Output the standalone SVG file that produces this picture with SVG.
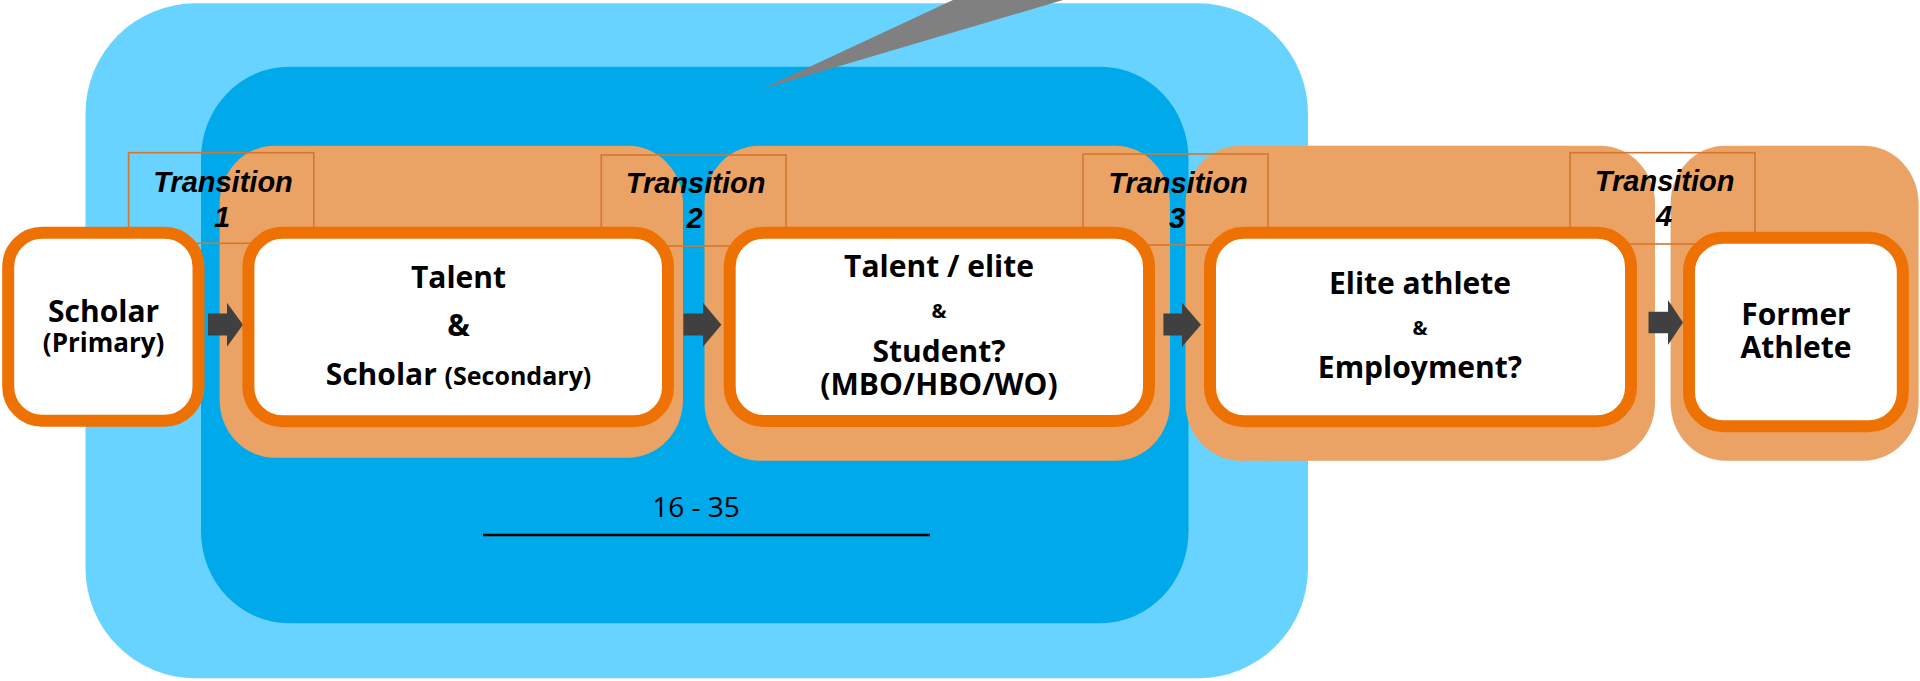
<svg xmlns="http://www.w3.org/2000/svg" width="1920" height="681" viewBox="0 0 1920 681">
<defs>
<style>
.lb{fill:#69D3FF}
.db{fill:#00A9EA}
.band{fill:#EBA265}
.box{fill:#FFFFFF;stroke:#EE7203;stroke-width:12}
.tr{fill:none;stroke:#D4772E;stroke-width:1.6}
.arr{fill:#404040}
.t{font-family:"Open Sans","Liberation Sans",sans-serif;font-weight:bold;fill:#000;text-anchor:middle}
.ti{font-family:"Liberation Sans",Arial,sans-serif;font-weight:bold;font-style:italic;fill:#000;text-anchor:middle;font-size:29px}
.reg{font-family:"Open Sans","Liberation Sans",sans-serif;fill:#000;text-anchor:middle;font-size:28px}
</style>
</defs>
<g id="background">
<rect class="lb" x="85.5" y="3.3" width="1222.5" height="675" rx="110" ry="110"/>
<rect class="db" x="201" y="66.7" width="987.5" height="556.6" rx="88" ry="92"/>
<polygon points="953,0 1063,0 762,89" fill="#808080"/>
</g>
<g id="bands">
<rect id="band1" class="band" x="219.6" y="145.7" width="463.4" height="312" rx="55" ry="58"/>
<rect id="band2" class="band" x="704.5" y="145.7" width="465.5" height="315" rx="55" ry="58"/>
<rect id="band3" class="band" x="1185.5" y="145.7" width="469.5" height="315" rx="55" ry="58"/>
<rect id="band4" class="band" x="1670.6" y="145.7" width="248" height="315" rx="55" ry="58"/>
</g>
<g id="age-label">
<text class="reg" x="696" y="517">16 - 35</text>
<line x1="483" y1="535" x2="930" y2="535" stroke="#000" stroke-width="2.5"/>
</g>
<g id="transitions">
<g id="transition1">
<rect class="tr" x="128.6" y="152.7" width="185.2" height="90.6"/>
<text class="ti" x="223" y="192">Transition</text>
<text class="ti" x="222" y="227">1</text>
</g>
<g id="transition2">
<rect class="tr" x="601.3" y="155" width="184.7" height="91"/>
<text class="ti" x="695.6" y="193">Transition</text>
<text class="ti" x="694.6" y="228">2</text>
</g>
<g id="transition3">
<rect class="tr" x="1083" y="154" width="185" height="91"/>
<text class="ti" x="1178" y="192.7">Transition</text>
<text class="ti" x="1177" y="228">3</text>
</g>
<g id="transition4">
<rect class="tr" x="1570" y="152.7" width="185" height="91.3"/>
<text class="ti" x="1664.7" y="190.7">Transition</text>
<text class="ti" x="1664" y="226">4</text>
</g>
</g>
<g id="connectors">
<polygon class="arr" points="208,313.5 227,313.5 227,302.7 243,324.7 227,346.7 227,335.5 208,335.5"/>
<polygon class="arr" points="683.5,313.5 703,313.5 703,302.7 721.4,324.7 703,346.7 703,335.5 683.5,335.5"/>
<polygon class="arr" points="1163.4,313.5 1182,313.5 1182,302.7 1201,324.7 1182,346.7 1182,335.5 1163.4,335.5"/>
<polygon class="arr" points="1648.5,311.7 1668,311.7 1668,300 1683,322.5 1668,345 1668,333.3 1648.5,333.3"/>
</g>
<g id="node-scholar-primary">
<rect class="box" x="8.2" y="232.7" width="190.3" height="188" rx="34" ry="34"/>
<text class="t" x="103.6" y="321.7" font-size="30">Scholar</text>
<text class="t" x="103.6" y="352.3" font-size="26">(Primary)</text>
</g>
<g id="node-talent">
<rect class="box" x="248.4" y="232.7" width="419.6" height="188.6" rx="34" ry="34"/>
<text class="t" x="458.5" y="288" font-size="30">Talent</text>
<text class="t" x="458.5" y="336" font-size="30">&amp;</text>
<text class="t" x="458.5" y="385" font-size="30">Scholar <tspan font-size="25">(Secondary)</tspan></text>
</g>
<g id="node-talent-elite">
<rect class="box" x="729.7" y="232.7" width="419.3" height="188.3" rx="34" ry="34"/>
<text class="t" x="939" y="277" font-size="30">Talent / elite</text>
<text class="t" x="939" y="318" font-size="20">&amp;</text>
<text class="t" x="939" y="362" font-size="30">Student?</text>
<text class="t" x="939" y="395" font-size="30">(MBO/HBO/WO)</text>
</g>
<g id="node-elite">
<rect class="box" x="1210" y="232.7" width="421" height="188.6" rx="34" ry="34"/>
<text class="t" x="1420" y="294" font-size="30">Elite athlete</text>
<text class="t" x="1420" y="335" font-size="20">&amp;</text>
<text class="t" x="1420" y="378" font-size="30">Employment?</text>
</g>
<g id="node-former">
<rect class="box" x="1689" y="237.7" width="213.8" height="188.6" rx="34" ry="34"/>
<text class="t" x="1796" y="325" font-size="30">Former</text>
<text class="t" x="1796" y="358" font-size="30">Athlete</text>
</g>
</svg>
